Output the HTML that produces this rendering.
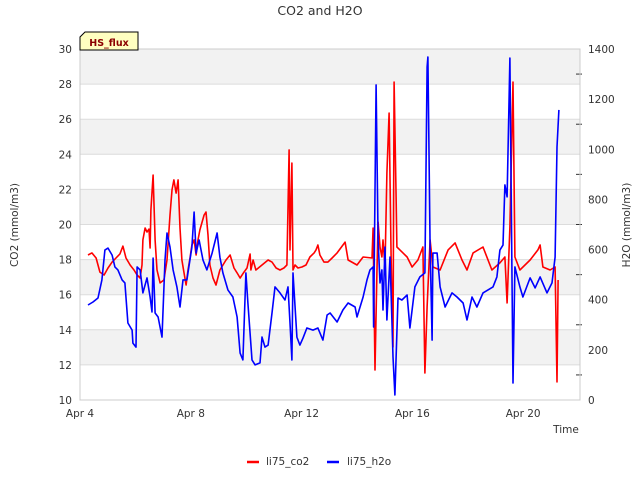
<!DOCTYPE html>
<html><head><meta charset="utf-8"><style>
body{margin:0;background:#fff;font-family:"DejaVu Sans",sans-serif}
text{font-family:"DejaVu Sans",sans-serif}
</style></head><body>
<svg id="chart" width="640" height="480">
<text x="320" y="15" text-anchor="middle" font-size="12.5" fill="#333">CO2 and H2O</text>
<g id="grid"></g>
<g id="axes"></g>
<g id="series"></g>
<g>
<path d="M80,50 L80,37 L85,32 L138,32 L138,50 Z" fill="#ffffc0" stroke="#000" stroke-width="1"/>
<text x="109" y="46" text-anchor="middle" font-size="9.5" font-weight="bold" fill="#8b0000">HS_flux</text>
</g>
<text transform="translate(18,225) rotate(-90)" text-anchor="middle" font-size="10.5" fill="#333">CO2 (mmol/m3)</text>
<text transform="translate(630,225) rotate(-90)" text-anchor="middle" font-size="10.5" fill="#333">H2O (mmol/m3)</text>
<text x="566" y="433" text-anchor="middle" font-size="10.5" fill="#333">Time</text>
<g>
<g><line x1="247" y1="462" x2="259" y2="462" stroke="#f00" stroke-width="2.5"/><text x="266" y="465" font-size="10.5" fill="#333">li75_co2</text></g>
<g><line x1="327" y1="462" x2="339" y2="462" stroke="#00f" stroke-width="2.5"/><text x="347" y="465" font-size="10.5" fill="#333">li75_h2o</text></g>
</g>
</svg>
<script>
const xTickLabels=["Apr 4","Apr 8","Apr 12","Apr 16","Apr 20"];
const xTickDays=[0,4,8,12,16];
const leftTicks=[10,12,14,16,18,20,22,24,26,28,30];
const rightTicks=[0,200,400,600,800,1000,1200,1400];
const co2Days=[0.29,0.43,0.58,0.72,0.87,1.01,1.16,1.30,1.44,1.55,1.66,1.81,1.95,2.06,2.17,2.24,2.27,2.35,2.42,2.49,2.53,2.56,2.64,2.71,2.78,2.89,3.03,3.14,3.25,3.32,3.39,3.47,3.54,3.61,3.68,3.75,3.83,3.90,3.97,4.04,4.12,4.19,4.26,4.33,4.48,4.55,4.62,4.69,4.80,4.91,5.05,5.27,5.42,5.56,5.67,5.78,5.92,6.03,6.14,6.17,6.25,6.35,6.57,6.79,6.93,7.08,7.22,7.36,7.47,7.55,7.58,7.65,7.69,7.76,7.87,8.01,8.16,8.30,8.45,8.52,8.59,8.66,8.81,8.95,9.10,9.28,9.57,9.68,10.00,10.22,10.54,10.58,10.65,10.72,10.76,10.83,10.90,10.94,11.01,11.08,11.16,11.23,11.30,11.34,11.41,11.44,11.55,11.81,11.99,12.20,12.38,12.45,12.53,12.64,12.74,13.00,13.29,13.54,13.79,13.97,14.19,14.55,14.87,15.16,15.34,15.42,15.52,15.63,15.70,15.88,16.25,16.53,16.61,16.71,16.97,17.15,17.22,17.26];
const co2Values=[18.26,18.38,18.09,17.29,17.12,17.52,17.86,18.09,18.32,18.77,18.09,17.69,17.41,17.12,16.95,17.69,19.12,19.80,19.57,19.74,18.66,20.83,22.82,19.12,17.41,16.67,16.84,17.98,20.54,21.97,22.54,21.79,22.54,19.80,17.98,17.29,16.55,17.41,18.09,18.83,19.12,18.26,19.12,19.69,20.54,20.71,19.40,17.69,16.95,16.55,17.41,17.98,18.26,17.52,17.24,16.95,17.29,17.52,18.32,17.41,17.98,17.41,17.69,17.98,17.86,17.52,17.41,17.52,17.69,24.25,18.55,23.50,17.41,17.69,17.52,17.58,17.69,18.15,18.38,18.55,18.83,18.26,17.86,17.86,18.09,18.38,19.00,17.98,17.69,18.15,18.09,19.80,11.71,17.24,20.14,18.72,18.15,19.12,17.58,22.93,26.35,18.15,13.02,28.12,21.57,18.72,18.55,18.15,17.58,17.98,18.72,11.54,15.30,19.12,17.58,17.41,18.55,18.95,17.98,17.41,18.38,18.72,17.41,17.81,18.15,15.53,19.86,28.12,18.15,17.41,17.98,18.55,18.83,17.58,17.41,17.58,11.03,16.84];
const h2oDays=[0.29,0.47,0.65,0.79,0.90,1.01,1.16,1.26,1.37,1.52,1.62,1.73,1.88,1.91,2.02,2.06,2.17,2.27,2.42,2.53,2.60,2.64,2.71,2.82,2.96,3.07,3.14,3.25,3.36,3.50,3.61,3.72,3.86,4.04,4.12,4.19,4.30,4.44,4.58,4.77,4.95,5.05,5.16,5.34,5.52,5.67,5.78,5.88,5.99,6.06,6.21,6.32,6.50,6.57,6.68,6.79,6.93,7.04,7.22,7.40,7.51,7.58,7.65,7.69,7.83,7.94,8.05,8.19,8.41,8.59,8.77,8.92,9.03,9.28,9.49,9.68,9.93,10.00,10.22,10.36,10.47,10.58,10.60,10.69,10.76,10.83,10.90,10.94,11.01,11.08,11.19,11.30,11.37,11.48,11.62,11.81,11.91,12.09,12.27,12.45,12.53,12.56,12.64,12.71,12.74,12.89,13.00,13.18,13.43,13.61,13.83,13.97,14.15,14.33,14.55,14.73,14.91,15.05,15.16,15.27,15.34,15.42,15.52,15.63,15.70,15.88,15.99,16.25,16.43,16.61,16.86,17.04,17.15,17.22,17.29];
const h2oValues=[379,391,407,479,598,606,578,531,519,479,467,307,279,227,211,531,519,427,487,411,351,566,347,331,251,558,666,610,519,451,371,479,479,610,750,586,638,558,519,586,666,570,507,439,411,331,187,160,507,387,160,140,148,251,211,219,347,451,427,399,451,307,160,507,251,219,247,287,279,287,239,339,347,311,359,387,371,331,411,479,519,531,291,1257,638,467,519,359,610,319,570,172,20,407,399,419,287,451,491,507,1328,1368,610,239,586,586,451,371,427,411,387,319,411,371,427,439,451,491,598,618,858,810,1364,68,531,451,411,487,447,491,427,467,570,1009,1157];

const NS="http://www.w3.org/2000/svg";
const L=80,R=580,T=49,B=400;
const xS=d=>L+d*27.7;
const yL=v=>B-(v-10)*(B-T)/20;
const yR=v=>B-v*(B-T)/1400;
function mk(tag,attrs,parent){const e=document.createElementNS(NS,tag);for(const k in attrs)e.setAttribute(k,attrs[k]);parent.appendChild(e);return e;}
const grid=document.getElementById('grid'),axes=document.getElementById('axes'),ser=document.getElementById('series');
for(let i=0;i<leftTicks.length-1;i++){
  if(i%2===1){const b=mk('rect',{x:L,y:yL(leftTicks[i+1]),width:R-L,height:yL(leftTicks[i])-yL(leftTicks[i+1]),fill:'#f2f2f2'},grid);
  
  }
}
leftTicks.forEach(v=>{
  const g=mk('line',{x1:L,x2:R,y1:yL(v),y2:yL(v),stroke:'#dcdcdc','stroke-width':1},grid);
  
  
  const t=mk('text',{x:L-8,y:yL(v)+4,'text-anchor':'end','font-size':10.5,fill:'#333'},axes);
  t.textContent=v;
  
  
});
rightTicks.forEach(v=>{
  const t=mk('text',{x:R+8,y:yR(v)+4,'font-size':10.5,fill:'#333'},axes);
  t.textContent=v;
  
  
  if(v<1400){const m=mk('line',{x1:R-4,x2:R+2,y1:yR(v+100),y2:yR(v+100),stroke:'#333'},axes);
  
  }
});
const frame=mk('rect',{x:L,y:T,width:R-L,height:B-T,fill:'none',stroke:'#ccc'},axes);


xTickDays.forEach((d,i)=>{
  const t=mk('text',{x:xS(d),y:B+17,'text-anchor':'middle','font-size':10.5,fill:'#333'},axes);
  t.textContent=xTickLabels[i];
  
  
});
function line(days,vals,ys,color,name){
  const p=days.map((d,i)=>(i?'L':'M')+xS(d).toFixed(1)+','+ys(vals[i]).toFixed(1)).join('');
  const e=mk('path',{d:p,fill:'none',stroke:color,'stroke-width':1.6,'stroke-linejoin':'round'},ser);
  
  
}
line(co2Days,co2Values,yL,'#ff0000','co2-line');
line(h2oDays,h2oValues,yR,'#0000ff','h2o-line');
</script>
</body></html>
